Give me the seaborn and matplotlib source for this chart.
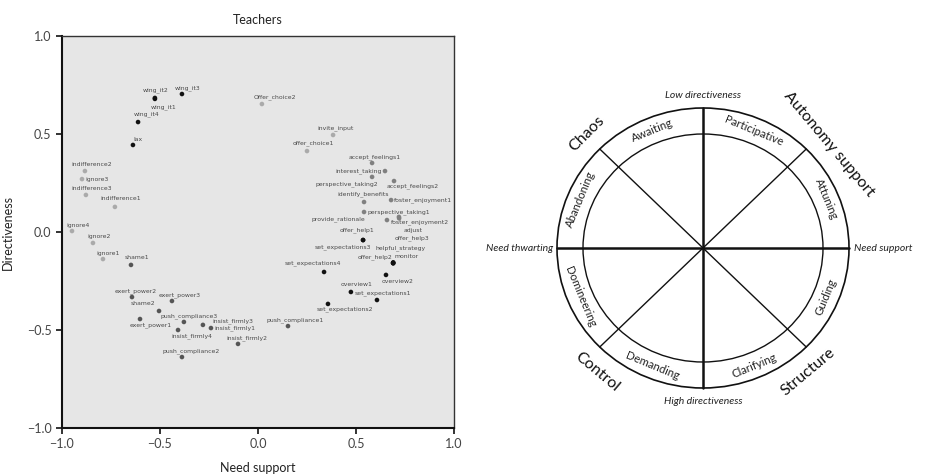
import numpy as np
import pandas as pd
import matplotlib
matplotlib.use("Agg")
import matplotlib.pyplot as plt
from matplotlib.patches import Ellipse
import seaborn as sns

# behaviours, position on the two dimensions, and shade group
behaviours = ['wing_it1', 'wing_it2', 'wing_it3', 'wing_it4', 'lax',
              'indifference2', 'ignore3', 'indifference3', 'indifference1',
              'ignore4', 'ignore2', 'ignore1', 'shame1',
              'exert_power2', 'exert_power3', 'shame2', 'exert_power1',
              'push_compliance3', 'insist_firmly3', 'insist_firmly1', 'insist_firmly4',
              'insist_firmly2', 'push_compliance2', 'push_compliance1',
              'set_expectations2', 'overview1', 'set_expectations1', 'overview2',
              'set_expectations4', 'offer_help2', 'monitor', 'helpful_strategy',
              'offer_help3', 'offer_help1', 'set_expectations3',
              'Offer_choice2', 'invite_input', 'offer_choice1',
              'accept_feelings1', 'interest_taking', 'perspective_taking2', 'accept_feelings2',
              'identify_benefits', 'foster_enjoyment1', 'perspective_taking1',
              'provide_rationale', 'foster_enjoyment2', 'adjust']
need_support = [-0.526, -0.526, -0.388, -0.612, -0.638,
                -0.883, -0.898, -0.878, -0.730,
                -0.949, -0.842, -0.791, -0.648,
                -0.643, -0.439, -0.505, -0.602,
                -0.378, -0.281, -0.240, -0.408,
                -0.102, -0.388, 0.153,
                0.357, 0.474, 0.607, 0.653,
                0.337, 0.689, 0.689, 0.690,
                0.690, 0.536, 0.536,
                0.020, 0.383, 0.250,
                0.582, 0.648, 0.582, 0.694,
                0.541, 0.679, 0.541,
                0.658, 0.719, 0.720]
directiveness = [0.679, 0.684, 0.704, 0.561, 0.444,
                 0.311, 0.270, 0.189, 0.128,
                 0.005, -0.056, -0.138, -0.168,
                 -0.332, -0.352, -0.403, -0.444,
                 -0.459, -0.474, -0.490, -0.500,
                 -0.571, -0.638, -0.480,
                 -0.367, -0.306, -0.347, -0.219,
                 -0.204, -0.158, -0.158, -0.155,
                 -0.160, -0.041, -0.041,
                 0.653, 0.495, 0.413,
                 0.352, 0.311, 0.281, 0.260,
                 0.153, 0.163, 0.102,
                 0.061, 0.077, 0.070]
shade = (['dark'] * 5 + ['light'] * 7 + ['mid'] * 12 + ['dark'] * 11
         + ['light'] * 3 + ['grey'] * 10)

# wheel texts
octants = ['Participative', 'Awaiting', 'Abandoning', 'Domineering',
           'Demanding', 'Clarifying', 'Guiding', 'Attuning']
octant_angles = [67.5, 112.5, 157.5, -157.5, -112.5, -67.5, -22.5, 22.5]
styles = ['Autonomy support', 'Chaos', 'Control', 'Structure']
style_angles = [40, 135, -130, -50]

df = pd.DataFrame({'behaviour': behaviours, 'need_support': need_support,
                   'directiveness': directiveness, 'shade': shade})

# label offsets in pixels (dx right, dy down, alignment)
offsets = {
    'wing_it1': (9, 8), 'wing_it2': (1, -8), 'wing_it3': (6, -6), 'wing_it4': (8, -8),
    'lax': (5, -5), 'indifference2': (7, -7), 'ignore3': (3, 0, 'left'),
    'indifference3': (6, -6), 'indifference1': (6, -8), 'ignore4': (6, -6),
    'ignore2': (6, -6), 'ignore1': (5, -6), 'shame1': (6, -7),
    'exert_power2': (4, -6), 'exert_power3': (8, -6), 'shame2': (-16, -7),
    'exert_power1': (11, 6), 'push_compliance3': (5, -6), 'insist_firmly3': (30, -4),
    'insist_firmly1': (3, 0, 'left'), 'insist_firmly4': (14, 6), 'insist_firmly2': (9, -6),
    'push_compliance2': (9, -6), 'push_compliance1': (7, -6), 'set_expectations2': (17, 5),
    'overview1': (6, -7), 'set_expectations1': (6, -7), 'overview2': (12, 7),
    'set_expectations4': (-11, -9), 'offer_help2': (-1, -6, 'right'), 'monitor': (1, -6, 'left'),
    'helpful_strategy': (7, -14), 'offer_help3': (19, -25), 'offer_help1': (-6, -10),
    'set_expectations3': (-20, 7), 'Offer_choice2': (13, -7), 'invite_input': (2, -7),
    'offer_choice1': (6, -8), 'accept_feelings1': (3, -6), 'interest_taking': (-3, 0, 'right'),
    'perspective_taking2': (-25, 7), 'accept_feelings2': (19, 5), 'identify_benefits': (-1, -8),
    'foster_enjoyment1': (3, 0, 'left'), 'perspective_taking1': (3, 0, 'left'),
    'provide_rationale': (-49, -1), 'foster_enjoyment2': (21, 5), 'adjust': (14, 12),
}

sns.set_style("ticks")
plt.rcParams['font.family'] = ['Lato', 'DejaVu Sans']

fig = plt.figure(figsize=(9.25, 4.76), dpi=100)

# Scatter panel
ax = fig.add_axes([62 / 925, 1 - 428 / 476, 392 / 925, 392 / 476])
ax.set_facecolor('#e6e6e6')
palette = {'dark': '#111111', 'mid': '#555555', 'grey': '#808080', 'light': '#aaaaaa'}
sns.scatterplot(data=df, x='need_support', y='directiveness', hue='shade',
                palette=palette, s=11, linewidth=0, legend=False, ax=ax, zorder=3)
for name, xv, yv in zip(behaviours, need_support, directiveness):
    off = offsets[name]
    ha = off[2] if len(off) > 2 else 'center'
    ax.annotate(name, (xv, yv), xytext=(off[0] * 0.72, -off[1] * 0.72),
                textcoords='offset points', ha=ha, va='center',
                fontsize=4.4, color='#4a4a4a', family=['DejaVu Sans'], zorder=4)

ax.set_xlim(-1, 1)
ax.set_ylim(-1, 1)
ax.set_xticks([-1, -0.5, 0, 0.5, 1])
ax.set_yticks([-1, -0.5, 0, 0.5, 1])
ax.tick_params(direction='out', length=4, width=1.2, labelsize=9, labelcolor='#444444',
               color='#111111')
for side in ['left', 'bottom']:
    ax.spines[side].set_linewidth(1.5)
    ax.spines[side].set_color('#111111')
for side in ['top', 'right']:
    ax.spines[side].set_linewidth(1.0)
    ax.spines[side].set_color('#333333')
ax.set_title('Teachers', fontsize=9, pad=9, color='#222222')
ax.set_xlabel('Need support', fontsize=9, color='#222222', labelpad=8)
ax.set_ylabel('Directiveness', fontsize=9, color='#222222', labelpad=9)

# Circumplex wheel
ax2 = fig.add_axes([0.5, 0, 0.5, 1])
ax2.set_xlim(-240.5, 222)
ax2.set_ylim(-228, 248)
ax2.axis('off')

rx_out, ry_out = 146, 140
rx_in, ry_in = 120, 114
ax2.add_patch(Ellipse((0, 0), 2 * rx_out, 2 * ry_out, fill=False, lw=1.2, ec='#111111'))
ax2.add_patch(Ellipse((0, 0), 2 * rx_in, 2 * ry_in, fill=False, lw=1.0, ec='#111111'))
ax2.plot([-rx_out, rx_out], [0, 0], color='#111111', lw=1.8)
ax2.plot([0, 0], [-ry_out, ry_out], color='#111111', lw=1.8)
for a in [45, 135]:
    t = np.deg2rad(a)
    ax2.plot([rx_out * np.cos(t), -rx_out * np.cos(t)],
             [ry_out * np.sin(t), -ry_out * np.sin(t)], color='#111111', lw=1.0)

rx_mid, ry_mid = 133, 127
for lab, a in zip(octants, octant_angles):
    t = np.deg2rad(a)
    rot = a - 90 if a > 0 else a + 90
    ax2.text(rx_mid * np.cos(t), ry_mid * np.sin(t), lab, rotation=rot,
             rotation_mode='anchor', ha='center', va='center',
             fontsize=8.2, color='#222222')

for lab, a in zip(styles, style_angles):
    t = np.deg2rad(a)
    rot = a - 90 if a > 0 else a + 90
    ax2.text(164 * np.cos(t), 162 * np.sin(t), lab, rotation=rot,
             rotation_mode='anchor', ha='center', va='center',
             fontsize=11.5, color='#111111')

ax2.text(0, 153, 'Low directiveness', ha='center', va='center', fontsize=7.5,
         style='italic', color='#222222')
ax2.text(0, -154, 'High directiveness', ha='center', va='center', fontsize=7.5,
         style='italic', color='#222222')
ax2.text(-150, 0, 'Need thwarting', ha='right', va='center', fontsize=7.5,
         style='italic', color='#222222')
ax2.text(151, 0, 'Need support', ha='left', va='center', fontsize=7.5,
         style='italic', color='#222222')

fig.savefig('out.png', dpi=100)
